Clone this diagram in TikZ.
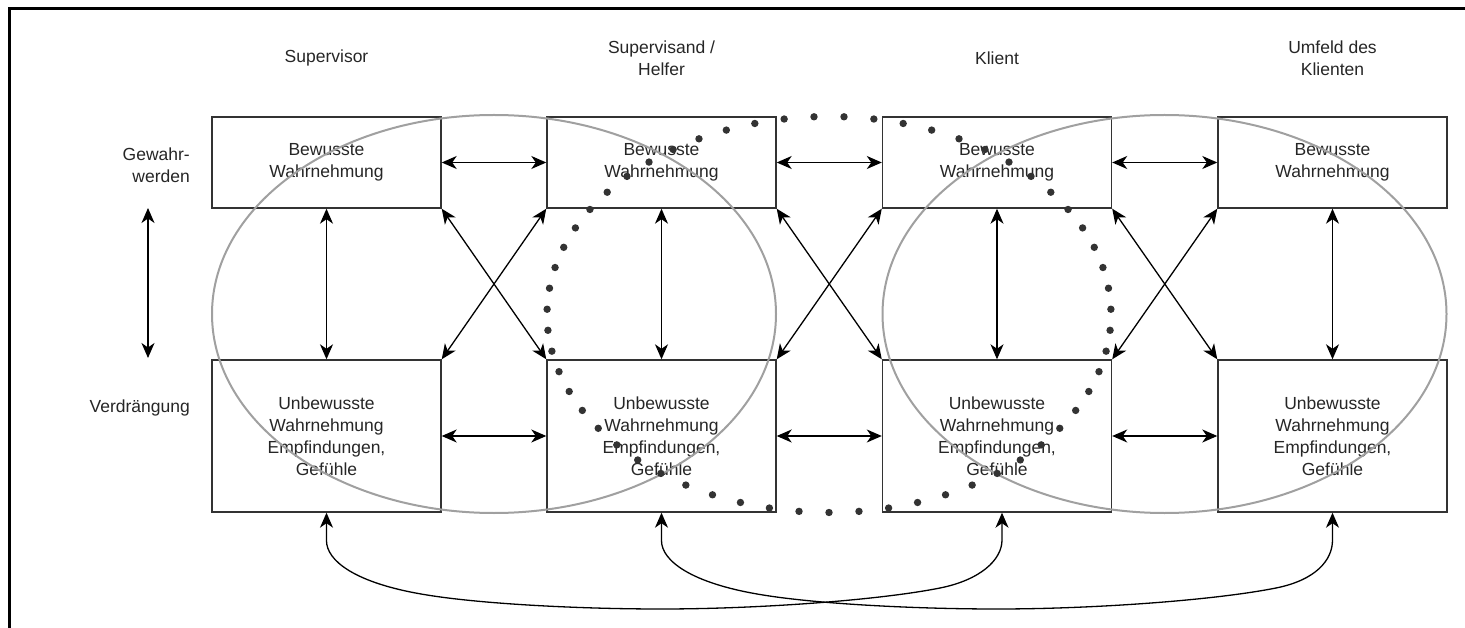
\documentclass[tikz,border=0pt]{standalone}
\usepackage{fontspec}
\setmainfont{Liberation Sans}
\usetikzlibrary{arrows.meta}
\definecolor{txt}{HTML}{262626}
\definecolor{boxc}{HTML}{333333}
\definecolor{ellc}{HTML}{A0A0A0}
\definecolor{dotc}{HTML}{333333}
\begin{document}
\begin{tikzpicture}[x=1pt,y=-1pt,
  every node/.style={font=\fontsize{17.5}{22}\selectfont, text=txt, align=center, inner sep=0pt},
  wbox/.style={draw=boxc, line width=1.4pt, minimum width=229pt},
  topbox/.style={wbox, minimum height=91pt},
  botbox/.style={wbox, minimum height=152pt},
  tip/.tip={Stealth[length=15pt,width=13pt,inset=4.5pt]},
  link/.style={draw=black, line width=1.3pt, tip-tip},
  ellipseline/.style={draw=ellc, line width=2pt},
  frameline/.style={draw=black, line width=3pt}
]
\useasboundingbox (0,0) rectangle (1465,628);
\draw[frameline] (9.5,628) -- (9.5,8.5) -- (1465,8.5);

% headers
\node (h1) at (326.5,58) {Supervisor};
\node (h2) at (661.5,58) {Supervisand /\\Helfer};
\node (h3) at (997,58) {Klient};
\node (h4) at (1332.5,58) {Umfeld des\\Klienten};
\node[anchor=east, align=right] (lg) at (190,165) {Gewahr-\\werden};
\node[anchor=east, align=right] (lv) at (190,408) {Verdrängung};

% boxes
\foreach \n/\x in {1/326.5,2/661.5,3/997,4/1332.5}{
  \node[topbox] (t\n) at (\x,162.5) {Bewusste\\Wahrnehmung};
  \node[botbox] (b\n) at (\x,436) {Unbewusste\\Wahrnehmung\\Empfindungen,\\Gefühle};
}

% left arrow
\coordinate (la1) at (148,208);
\coordinate (la2) at (148,358);
\draw[link] (la1) -- (la2);

% arrows
\foreach \n in {1,2,3,4}{
  \draw[link] (t\n.south) -- (b\n.north);
}
\foreach \a/\b in {1/2,2/3,3/4}{
  \draw[link] (t\a.east) -- (t\b.west);
  \draw[link] (b\a.east) -- (b\b.west);
  \draw[link] (t\a.south east) -- (b\b.north west);
  \draw[link] (t\b.south west) -- (b\a.north east);
}

% bottom curves
\draw[link] (b1.south) -- ++(0,28) .. controls +(0,20) and (355,583) .. (424,594.5)
  .. controls (480,604) and (580,609) .. (661,609)
  .. controls (760,609) and (880,600) .. (940,588)
  .. controls (980,580) and (1002,560) .. (1002,540) -- ([xshift=5pt]b3.south);
\draw[link] (b2.south) -- ++(0,28) .. controls +(0,20) and (691,583) .. (760,594.5)
  .. controls (816,604) and (916,609) .. (997,609)
  .. controls (1096,609) and (1216,600) .. (1276,588)
  .. controls (1316,580) and (1332.5,560) .. (1332.5,540) -- (b4.south);

% grey ellipses
\draw[ellipseline] (494,314) ellipse [x radius=282, y radius=199];
\draw[ellipseline] (1164.5,314) ellipse [x radius=282, y radius=199];

% dotted ellipse
\foreach \i in {0,...,58}{
  \pgfmathsetmacro{\ang}{90+\i*6.10169}
  \fill[dotc] ({829+282*cos(\ang)},{314.5+198*sin(\ang)}) circle[radius=3.7pt];
}
\end{tikzpicture}
\end{document}
